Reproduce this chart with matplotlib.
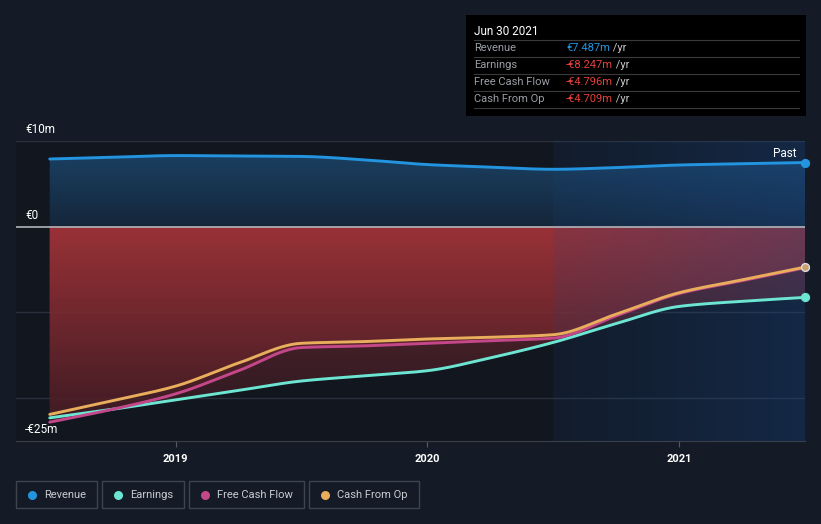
import numpy as np
import matplotlib.pyplot as plt
from matplotlib.patches import PathPatch
from matplotlib.colors import LinearSegmentedColormap

plt.rcParams['font.family'] = ['Roboto', 'DejaVu Sans']

# quarterly points, Jun 2018 .. Jun 2021
dates = [2018.5, 2018.75, 2019.0, 2019.25, 2019.5, 2019.75, 2020.0,
         2020.25, 2020.5, 2020.75, 2021.0, 2021.25, 2021.5]
revenue = [7.9, 8.1, 8.3, 8.25, 8.2, 7.8, 7.25, 6.95, 6.7, 6.9, 7.2, 7.35, 7.487]
earnings = [-22.3, -21.3, -20.2, -19.1, -18.0, -17.4, -16.8, -15.3, -13.5, -11.3, -9.3, -8.7, -8.247]
fcf = [-22.8, -21.3, -19.5, -16.8, -14.1, -13.9, -13.6, -13.3, -13.0, -10.4, -7.8, -6.3, -4.796]
cfo = [-21.9, -20.3, -18.6, -15.9, -13.6, -13.4, -13.1, -12.9, -12.6, -10.2, -7.7, -6.2, -4.709]

yticks = [10, 0, -25]
ytick_labels = ['€10m', '€0', '-€25m']
xticks = [2019, 2020, 2021]

c_rev = '#2394df'
c_earn = '#6ce5d3'
c_fcf = '#c4478a'
c_cfo = '#e8ae5c'
bg = '#151b26'

x0, x1 = 2018.366, 2021.5
y0, y1 = -25, 10

fig = plt.figure(figsize=(8.21, 5.24), dpi=100, facecolor=bg)
ax = fig.add_axes([16/821, 83/524, 789/821, 300/524])
ax.set_facecolor('#11161f')
ax.set_xlim(x0, x1)
ax.set_ylim(y0, y1)

def smooth(x, y, n=300):
    # monotone cubic (Fritsch-Carlson) for a smooth line through the points
    x = np.asarray(x, float); y = np.asarray(y, float)
    h = np.diff(x); d = np.diff(y) / h
    m = np.zeros_like(y)
    m[0], m[-1] = d[0], d[-1]
    for i in range(1, len(y) - 1):
        if d[i-1] * d[i] > 0:
            w1 = 2*h[i] + h[i-1]; w2 = h[i] + 2*h[i-1]
            m[i] = (w1 + w2) / (w1/d[i-1] + w2/d[i])
    xs = np.linspace(x[0], x[-1], n)
    k = np.clip(np.searchsorted(x, xs) - 1, 0, len(x) - 2)
    t = (xs - x[k]) / h[k]
    h00 = 2*t**3 - 3*t**2 + 1; h10 = t**3 - 2*t**2 + t
    h01 = -2*t**3 + 3*t**2; h11 = t**3 - t**2
    ys = h00*y[k] + h10*h[k]*m[k] + h01*y[k+1] + h11*h[k]*m[k+1]
    return xs, ys

def grad_fill(xs, ys, c_top, c_bot, lo, hi, alpha, z):
    poly = ax.fill_between(xs, ys, 0, facecolor='none', edgecolor='none')
    path = poly.get_paths()[0]
    patch = PathPatch(path, transform=ax.transData, facecolor='none', edgecolor='none')
    ax.add_patch(patch)
    cmap = LinearSegmentedColormap.from_list('g', [c_bot, c_top])
    g = np.linspace(0, 1, 256).reshape(-1, 1)
    im = ax.imshow(g, extent=[x0, x1, lo, hi], origin='lower', aspect='auto',
                   cmap=cmap, alpha=alpha, zorder=z, interpolation='bicubic')
    im.set_clip_path(patch)

# gridlines
for v in [10, -10, -20]:
    ax.axhline(v, color='#2a303b', lw=1, zorder=1)

xr, yr = smooth(dates, revenue)
grad_fill(xr, yr, '#1b4468', '#15263a', 0, 10, 1.0, 2)

for ser in [earnings, fcf, cfo]:
    xs, ys = smooth(dates, ser)
    grad_fill(xs, ys, '#a8353a', '#3a1a22', -25, 0, 0.55, 2)

# highlighted recent period
ov = np.zeros((1, 256, 4))
ov[..., :3] = np.array([0x1a, 0x4a, 0x8c]) / 255
ov[..., 3] = np.linspace(0.12, 0.35, 256)
ax.imshow(ov, extent=[2020.5, x1, y0, y1], aspect='auto', zorder=3,
          interpolation='bilinear')
ax.set_xlim(x0, x1)
ax.set_ylim(y0, y1)

ax.axhline(0, color='#b0b4ba', lw=1.2, zorder=4)

for ser, col in [(revenue, c_rev), (earnings, c_earn), (fcf, c_fcf), (cfo, c_cfo)]:
    xs, ys = smooth(dates, ser)
    ax.plot(xs, ys, color=col, lw=2.1, zorder=5, solid_capstyle='round')

ax.scatter([dates[-1]], [revenue[-1]], s=32, color=c_rev, zorder=6, clip_on=False)
ax.scatter([dates[-1]], [earnings[-1]], s=32, color=c_earn, zorder=6, clip_on=False)
ax.scatter([dates[-1]], [cfo[-1]], s=32, color='#c9a070', edgecolor='#dddddd',
           lw=1, zorder=6, clip_on=False)

ax.text(2021.465, 8.6, 'Past', color='white', fontsize=8.5, ha='right', va='center', zorder=7)

for s in ['top', 'right', 'left']:
    ax.spines[s].set_visible(False)
ax.spines['bottom'].set_color('#3a404a')
ax.set_yticks([])
ax.set_xticks(xticks)
ax.set_xticklabels([str(t) for t in xticks], color='white', fontsize=8, fontweight='bold')
ax.tick_params(axis='x', length=4, color='#555b66', pad=5)

for v, lab in zip(yticks, ytick_labels):
    fy = (83 + (v - y0) / (y1 - y0) * 300 + 5) / 524
    fig.text(25/821, fy, lab, color='white', fontsize=8.5, ha='left', va='bottom')

# tooltip box
bx = fig.add_axes([466/821, 1 - 116/524, 340/821, 101/524])
bx.set_xlim(0, 340); bx.set_ylim(101, 0)
bx.set_facecolor('black')
bx.set_xticks([]); bx.set_yticks([])
for s in bx.spines.values():
    s.set_visible(False)
bx.text(8, 16, 'Jun 30 2021', color='white', fontsize=8.5, va='center')
rows = [('Revenue', '€7.487m', c_rev), ('Earnings', '-€8.247m', '#e8413c'),
        ('Free Cash Flow', '-€4.796m', '#e8413c'), ('Cash From Op', '-€4.709m', '#e8413c')]
for i, (lab, val, col) in enumerate(rows):
    yy = 33 + 17 * i
    bx.axhline(yy - 8.5, xmin=8/340, xmax=333/340, color='#3a3a3a', lw=0.8)
    bx.text(8, yy, lab, color='#9a9ea4', fontsize=8, va='center')
    t = bx.text(100, yy, val, color=col, fontsize=8, va='center')
    bx.annotate(' /yr', xycoords=t, xy=(1, 0.5), va='center', color='#c8c8c8', fontsize=8)
bx.axhline(33 + 17 * 4 - 8.5, xmin=8/340, xmax=333/340, color='#3a3a3a', lw=0.8)

# legend buttons
items = [('Revenue', c_rev, 16, 97), ('Earnings', c_earn, 102, 184),
         ('Free Cash Flow', c_fcf, 189, 304), ('Cash From Op', c_cfo, 309, 419)]
lx = fig.add_axes([0, 0, 1, 1], facecolor='none')
lx.set_xlim(0, 821); lx.set_ylim(524, 0); lx.axis('off')
for lab, col, a, b in items:
    lx.add_patch(plt.Rectangle((a, 481), b - a, 27, facecolor='none',
                               edgecolor='#3e444f', lw=1))
    lx.scatter([a + 16], [494.5], s=30, color=col)
    lx.text(a + 28, 494.5, lab, color='#c8ccd2', fontsize=8, va='center')

fig.savefig('out.png', dpi=100, facecolor=bg)
